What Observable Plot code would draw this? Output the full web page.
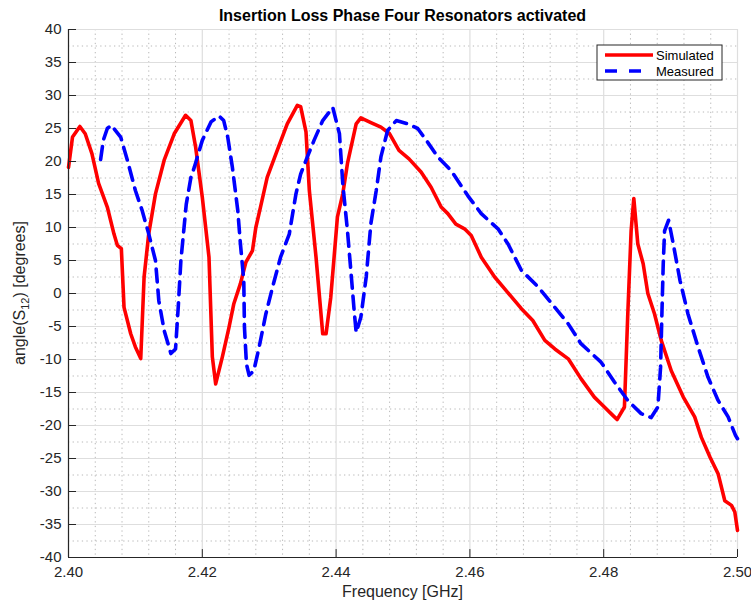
<!DOCTYPE html>
<html>
<head>
<meta charset="utf-8">
<script src="https://cdn.jsdelivr.net/npm/d3@7"></script>
<script src="https://cdn.jsdelivr.net/npm/@observablehq/plot@0.6"></script>
<style>
  body { margin: 0; background: #fff; }
</style>
</head>
<body>
<div id="chart"></div>
<script>
// ---- data ----
const simFreq = [2.4000,2.4006,2.4017,2.4025,2.4035,2.4045,2.4058,2.4068,2.4073,2.4079,2.4083,2.4093,2.4100,2.4108,2.4113,2.4120,2.4130,2.4143,2.4158,2.4175,2.4183,2.4190,2.4200,2.4210,2.4215,2.4220,2.4230,2.4240,2.4247,2.4257,2.4265,2.4275,2.4280,2.4287,2.4297,2.4312,2.4327,2.4342,2.4347,2.4355,2.4360,2.4370,2.4380,2.4385,2.4392,2.4402,2.4410,2.4417,2.4430,2.4437,2.4452,2.4467,2.4480,2.4494,2.4509,2.4527,2.4542,2.4557,2.4567,2.4579,2.4592,2.4602,2.4617,2.4637,2.4652,2.4677,2.4694,2.4712,2.4727,2.4747,2.4766,2.4786,2.4801,2.4814,2.4820,2.4831,2.4836,2.4841,2.4845,2.4851,2.4859,2.4866,2.4876,2.4886,2.4901,2.4919,2.4936,2.4946,2.4959,2.4971,2.4981,2.4991,2.4996,2.5000];
const simPhase = [19.1,23.7,25.3,24.2,21.2,16.7,13.1,9.0,7.3,6.8,-2.1,-6.1,-8.1,-9.85,2.5,9.1,15.1,20.2,24.2,27.0,26.2,22.2,14.6,5.5,-9.6,-13.7,-9.6,-5.1,-1.6,1.5,4.7,6.5,10.0,13.1,17.6,21.7,25.7,28.5,28.3,24.5,15.6,5.5,-6.1,-6.1,-0.6,11.6,15.1,19.7,25.7,26.6,25.9,25.2,24.2,21.7,20.4,18.4,16.1,13.1,12.1,10.5,9.8,8.8,5.5,2.5,0.7,-2.3,-4.1,-7.1,-8.4,-9.9,-12.9,-15.7,-17.2,-18.5,-19.1,-17.2,-3.1,9.5,14.4,7.5,4.5,0.0,-3.1,-7.1,-11.7,-15.7,-18.7,-21.8,-24.8,-27.3,-31.4,-32.1,-33.1,-35.9];

const measFreq = [2.4048,2.4052,2.4058,2.4064,2.4078,2.4088,2.4100,2.4110,2.4120,2.4130,2.4135,2.4143,2.4153,2.4160,2.4164,2.4168,2.4176,2.4183,2.4188,2.4200,2.4213,2.4225,2.4232,2.4238,2.4245,2.4253,2.4257,2.4262,2.4263,2.4266,2.4270,2.4277,2.4285,2.4295,2.4305,2.4317,2.4330,2.4340,2.4347,2.4357,2.4367,2.4380,2.4395,2.4405,2.4410,2.4417,2.4422,2.4427,2.4430,2.4437,2.4445,2.4452,2.4460,2.4467,2.4477,2.4490,2.4507,2.4522,2.4537,2.4552,2.4572,2.4597,2.4617,2.4642,2.4657,2.4677,2.4702,2.4727,2.4747,2.4766,2.4796,2.4816,2.4836,2.4856,2.4871,2.4881,2.4885,2.4887,2.4889,2.4891,2.4897,2.4904,2.4914,2.4926,2.4941,2.4956,2.4971,2.4986,2.4997,2.5000];
const measPhase = [20.3,23.2,25.0,25.5,23.7,20.2,15.6,12.6,9.0,5.0,-1.1,-5.6,-9.1,-8.4,-2.1,5.0,13.5,17.6,19.1,23.2,26.0,26.9,26.2,23.7,19.1,12.6,7.5,2.0,-5.1,-10.7,-12.4,-11.7,-8.1,-3.1,0.95,5.5,9.0,15.1,18.1,20.7,23.2,26.2,28.2,24.2,16.6,9.5,3.5,-2.6,-5.9,-3.6,2.5,10.6,15.6,20.7,24.7,26.2,25.7,25.0,22.9,20.7,18.6,14.8,12.1,9.8,7.5,3.5,1.0,-2.1,-4.6,-7.6,-10.4,-13.4,-16.2,-18.2,-18.8,-17.2,-11.2,-3.1,4.5,9.5,11.1,7.5,2.0,-3.1,-8.1,-12.7,-16.2,-18.7,-21.5,-22.0];

const xTicks = [2.40, 2.42, 2.44, 2.46, 2.48, 2.50];
const xMinorTicks = [2.404,2.408,2.412,2.416,2.424,2.428,2.432,2.436,2.444,2.448,2.452,2.456,2.464,2.468,2.472,2.476,2.484,2.488,2.492,2.496];
const yTicks = [-40,-35,-30,-25,-20,-15,-10,-5,0,5,10,15,20,25,30,35,40];
const yMinorTicks = [-37.5,-32.5,-27.5,-22.5,-17.5,-12.5,-7.5,-2.5,2.5,7.5,12.5,17.5,22.5,27.5,32.5,37.5];

const seriesNames = ["Simulated", "Measured"];
const seriesColors = ["#ff0000", "#0000ff"];
const titleText = "Insertion Loss Phase Four Resonators activated";
const xLabelText = "Frequency [GHz]";

const sim = simFreq.map((f, i) => ({f, v: simPhase[i]}));
const meas = measFreq.map((f, i) => ({f, v: measPhase[i]}));

const W = 751, H = 606;
const mL = 68, mR = 14, mT = 29, mB = 49;
const axisColor = "#262626";
const font = "'Liberation Sans', Arial, Helvetica, sans-serif";

const svg = Plot.plot({
  width: W, height: H,
  marginLeft: mL, marginRight: mR, marginTop: mT, marginBottom: mB,
  style: {fontFamily: font, fontSize: "15px", color: axisColor, background: "#fff", overflow: "visible"},
  x: {domain: [2.40, 2.50]},
  y: {domain: [-40, 40]},
  marks: [
    Plot.ruleX(xMinorTicks, {x: d => d, stroke: "#b8b8b8", strokeDasharray: "1.3,3.3", strokeWidth: 1}),
    Plot.ruleY(yMinorTicks, {y: d => d, stroke: "#b8b8b8", strokeDasharray: "1.3,3.3", strokeWidth: 1}),
    Plot.ruleX(xTicks, {x: d => d, stroke: "#dedede", strokeWidth: 1.2}),
    Plot.ruleY(yTicks, {y: d => d, stroke: "#dedede", strokeWidth: 1.2}),
    Plot.line(sim, {x: "f", y: "v", stroke: seriesColors[0], strokeWidth: 3.6, curve: "linear"}),
    Plot.line(meas, {x: "f", y: "v", stroke: seriesColors[1], strokeWidth: 3.6, strokeDasharray: "13,8", curve: "linear"}),
    Plot.ruleY(yTicks, {y: d => d, x1: 2.40, x2: 2.4012, stroke: axisColor, strokeWidth: 1}),
    Plot.ruleX(xTicks, {x: d => d, y1: -40, y2: -38.8, stroke: axisColor, strokeWidth: 1}),
    Plot.ruleX([2.40], {stroke: axisColor, strokeWidth: 1.2}),
    Plot.ruleY([-40], {stroke: axisColor, strokeWidth: 1.2}),
    Plot.axisX({ticks: xTicks, tickSize: 0, tickPadding: 9, tickFormat: d => d.toFixed(2), label: null, fontSize: 15}),
    Plot.axisY({ticks: yTicks, tickSize: 0, tickPadding: 7, tickFormat: d => String(d), label: null, fontSize: 15})
  ]
});

document.getElementById("chart").appendChild(svg);

const sel = d3.select(svg);
const cx = mL + (W - mL - mR) / 2;

// title
sel.append("text").attr("x", cx).attr("y", 21).attr("text-anchor", "middle")
  .attr("fill", "#000").style("font-size", "16px").style("font-weight", "bold").style("font-family", font)
  .text(titleText);

// x label
sel.append("text").attr("x", cx).attr("y", 597).attr("text-anchor", "middle")
  .attr("fill", axisColor).style("font-size", "16px").style("font-family", font)
  .text(xLabelText);

// y axis label with subscript
const ylab = sel.append("text")
  .attr("transform", `translate(25,${mT + (H - mT - mB) / 2}) rotate(-90)`)
  .attr("text-anchor", "middle")
  .attr("fill", axisColor)
  .style("font-size", "16px").style("font-family", font);
ylab.append("tspan").text("angle(S");
ylab.append("tspan").text("12").style("font-size", "11px").attr("dy", "4");
ylab.append("tspan").text(") [degrees]").attr("dy", "-4");

// legend box
const plotRight = W - mR;
const lgW = 125, lgH = 35;
const lgX = plotRight - 15 - lgW, lgY = mT + 16;
const lg = sel.append("g").attr("transform", `translate(${lgX},${lgY})`);
lg.append("rect").attr("width", lgW).attr("height", lgH).attr("fill", "#fff").attr("stroke", axisColor).attr("stroke-width", 1);
seriesNames.forEach((name, i) => {
  const yy = 10 + i * 16;
  lg.append("line").attr("x1", 8).attr("x2", 56).attr("y1", yy).attr("y2", yy)
    .attr("stroke", seriesColors[i]).attr("stroke-width", 3.6)
    .attr("stroke-dasharray", i === 1 ? "12,12" : null);
  lg.append("text").attr("x", 59).attr("y", yy + 4.5).attr("text-anchor", "start").text(name)
    .attr("fill", "#000").style("font-size", "13px").style("font-family", font);
});
</script>
</body>
</html>
